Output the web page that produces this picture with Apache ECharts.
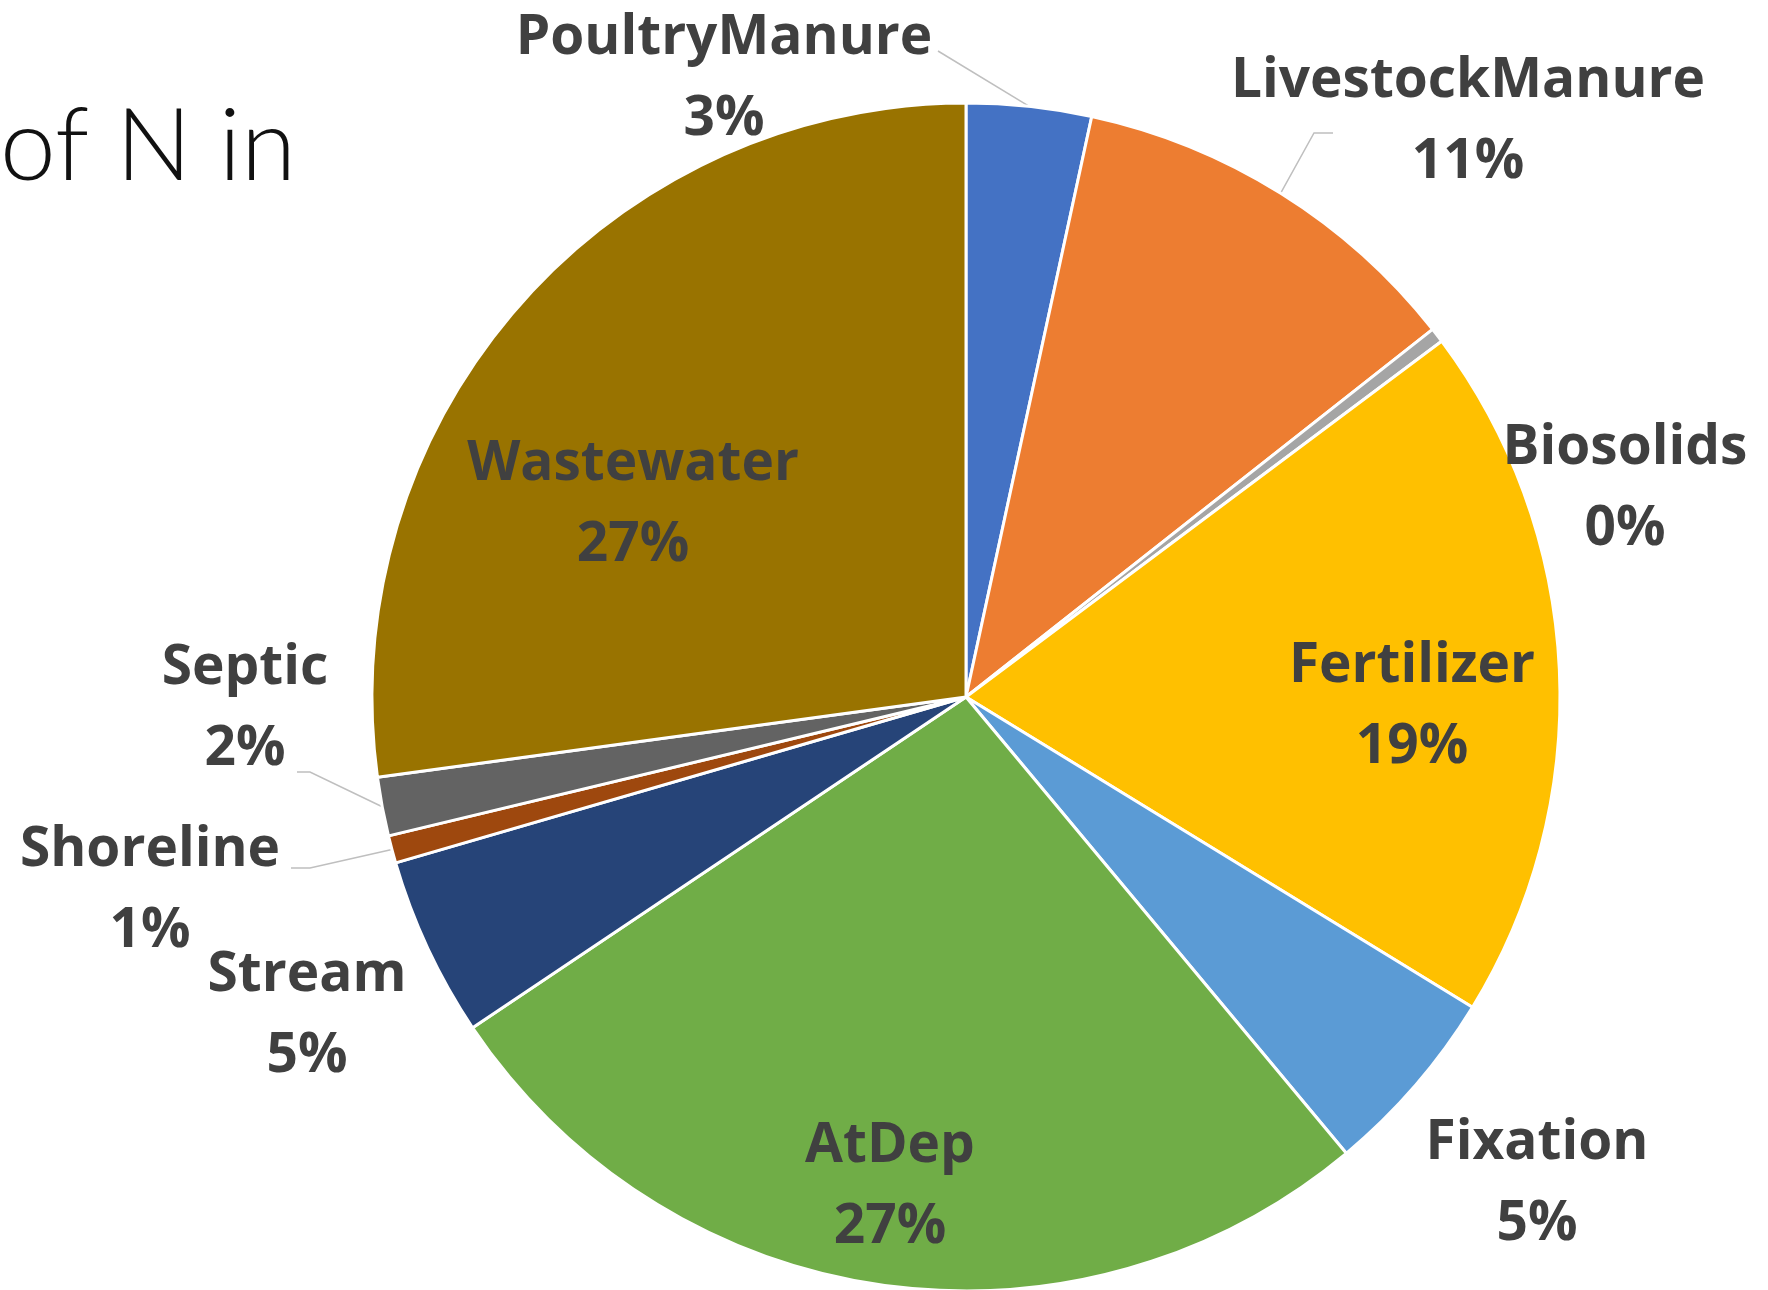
<!DOCTYPE html>
<html>
<head>
<meta charset="utf-8">
<script src="https://cdn.jsdelivr.net/npm/echarts@6/dist/echarts.min.js"></script>
<style>
  html, body { margin: 0; padding: 0; background: #fff; }
  #main { width: 1768px; height: 1290px; }
</style>
</head>
<body>
<div id="main"></div>
<script>
// sources of N, clockwise from 12 o'clock
const categories = ['PoultryManure', 'LivestockManure', 'Biosolids', 'Fertilizer', 'Fixation',
  'AtDep', 'Stream', 'Shoreline', 'Septic', 'Wastewater']
const shares = [3.4, 11.0, 0.4, 19.0, 5.2, 26.7, 4.9, 0.75, 1.6, 27.2]
const colors = ['#4472C4', '#ED7D31', '#A5A5A5', '#FFC000', '#5B9BD5',
  '#70AD47', '#264478', '#9E480E', '#636363', '#997300']
const insideLabels = ['Fertilizer', 'AtDep', 'Wastewater']
const withLeader = ['PoultryManure', 'LivestockManure', 'Shoreline', 'Septic']

// label block centres (px)
const labelAt = {
  PoultryManure: [724, 79],
  LivestockManure: [1468, 122],
  Biosolids: [1625, 489],
  Fertilizer: [1412, 707],
  Fixation: [1537, 1184],
  AtDep: [890, 1187],
  Stream: [307, 1016],
  Shoreline: [150, 891],
  Septic: [245, 709],
  Wastewater: [633, 505]
}
// leader line: elbow and end, relative to label centre
const leaderEnd = {
  PoultryManure: [[214, -28], [214, -28]],
  LivestockManure: [[-154, 11], [-135, 11]],
  Septic: [[65, 63], [52, 63]],
  Shoreline: [[160, -23], [141, -23]]
}

const chart = echarts.init(document.getElementById('main'))

const data = categories.map((name, i) => ({
  name: name,
  value: shares[i],
  itemStyle: { color: colors[i] },
  label: { position: insideLabels.includes(name) ? 'inside' : 'outside' },
  labelLine: { show: withLeader.includes(name) }
}))

const option = {
  animation: false,
  graphic: [{
    type: 'text',
    style: {
      text: 'of N in',
      x: 296,
      y: 148,
      align: 'right',
      verticalAlign: 'middle',
      fontFamily: 'Lato',
      fontWeight: 300,
      fontSize: 100,
      fill: '#111'
    }
  }],
  series: [{
    type: 'pie',
    center: [966, 697],
    radius: 594,
    startAngle: 90,
    clockwise: true,
    avoidLabelOverlap: false,
    itemStyle: { borderColor: '#fff', borderWidth: 3 },
    label: {
      show: true,
      formatter: p => p.name + '\n' + Math.round(p.percent) + '%',
      fontFamily: 'Open Sans',
      fontWeight: 'bold',
      fontSize: 55,
      lineHeight: 81,
      color: '#404040',
      align: 'center'
    },
    labelLine: {
      length: 20,
      length2: 20,
      lineStyle: { color: '#BFBFBF', width: 1.5 }
    },
    labelLayout: function (params) {
      const name = categories[params.dataIndex]
      const c = labelAt[name]
      const out = {
        x: c[0],
        y: c[1],
        align: 'center',
        verticalAlign: 'middle'
      }
      if (leaderEnd[name] && params.labelLinePoints) {
        const p0 = params.labelLinePoints[0]
        const e = leaderEnd[name]
        out.labelLinePoints = [
          p0,
          [c[0] + e[0][0], c[1] + e[0][1]],
          [c[0] + e[1][0], c[1] + e[1][1]]
        ]
      }
      return out
    },
    data: data
  }]
}
option && chart.setOption(option)
</script>
</body>
</html>
